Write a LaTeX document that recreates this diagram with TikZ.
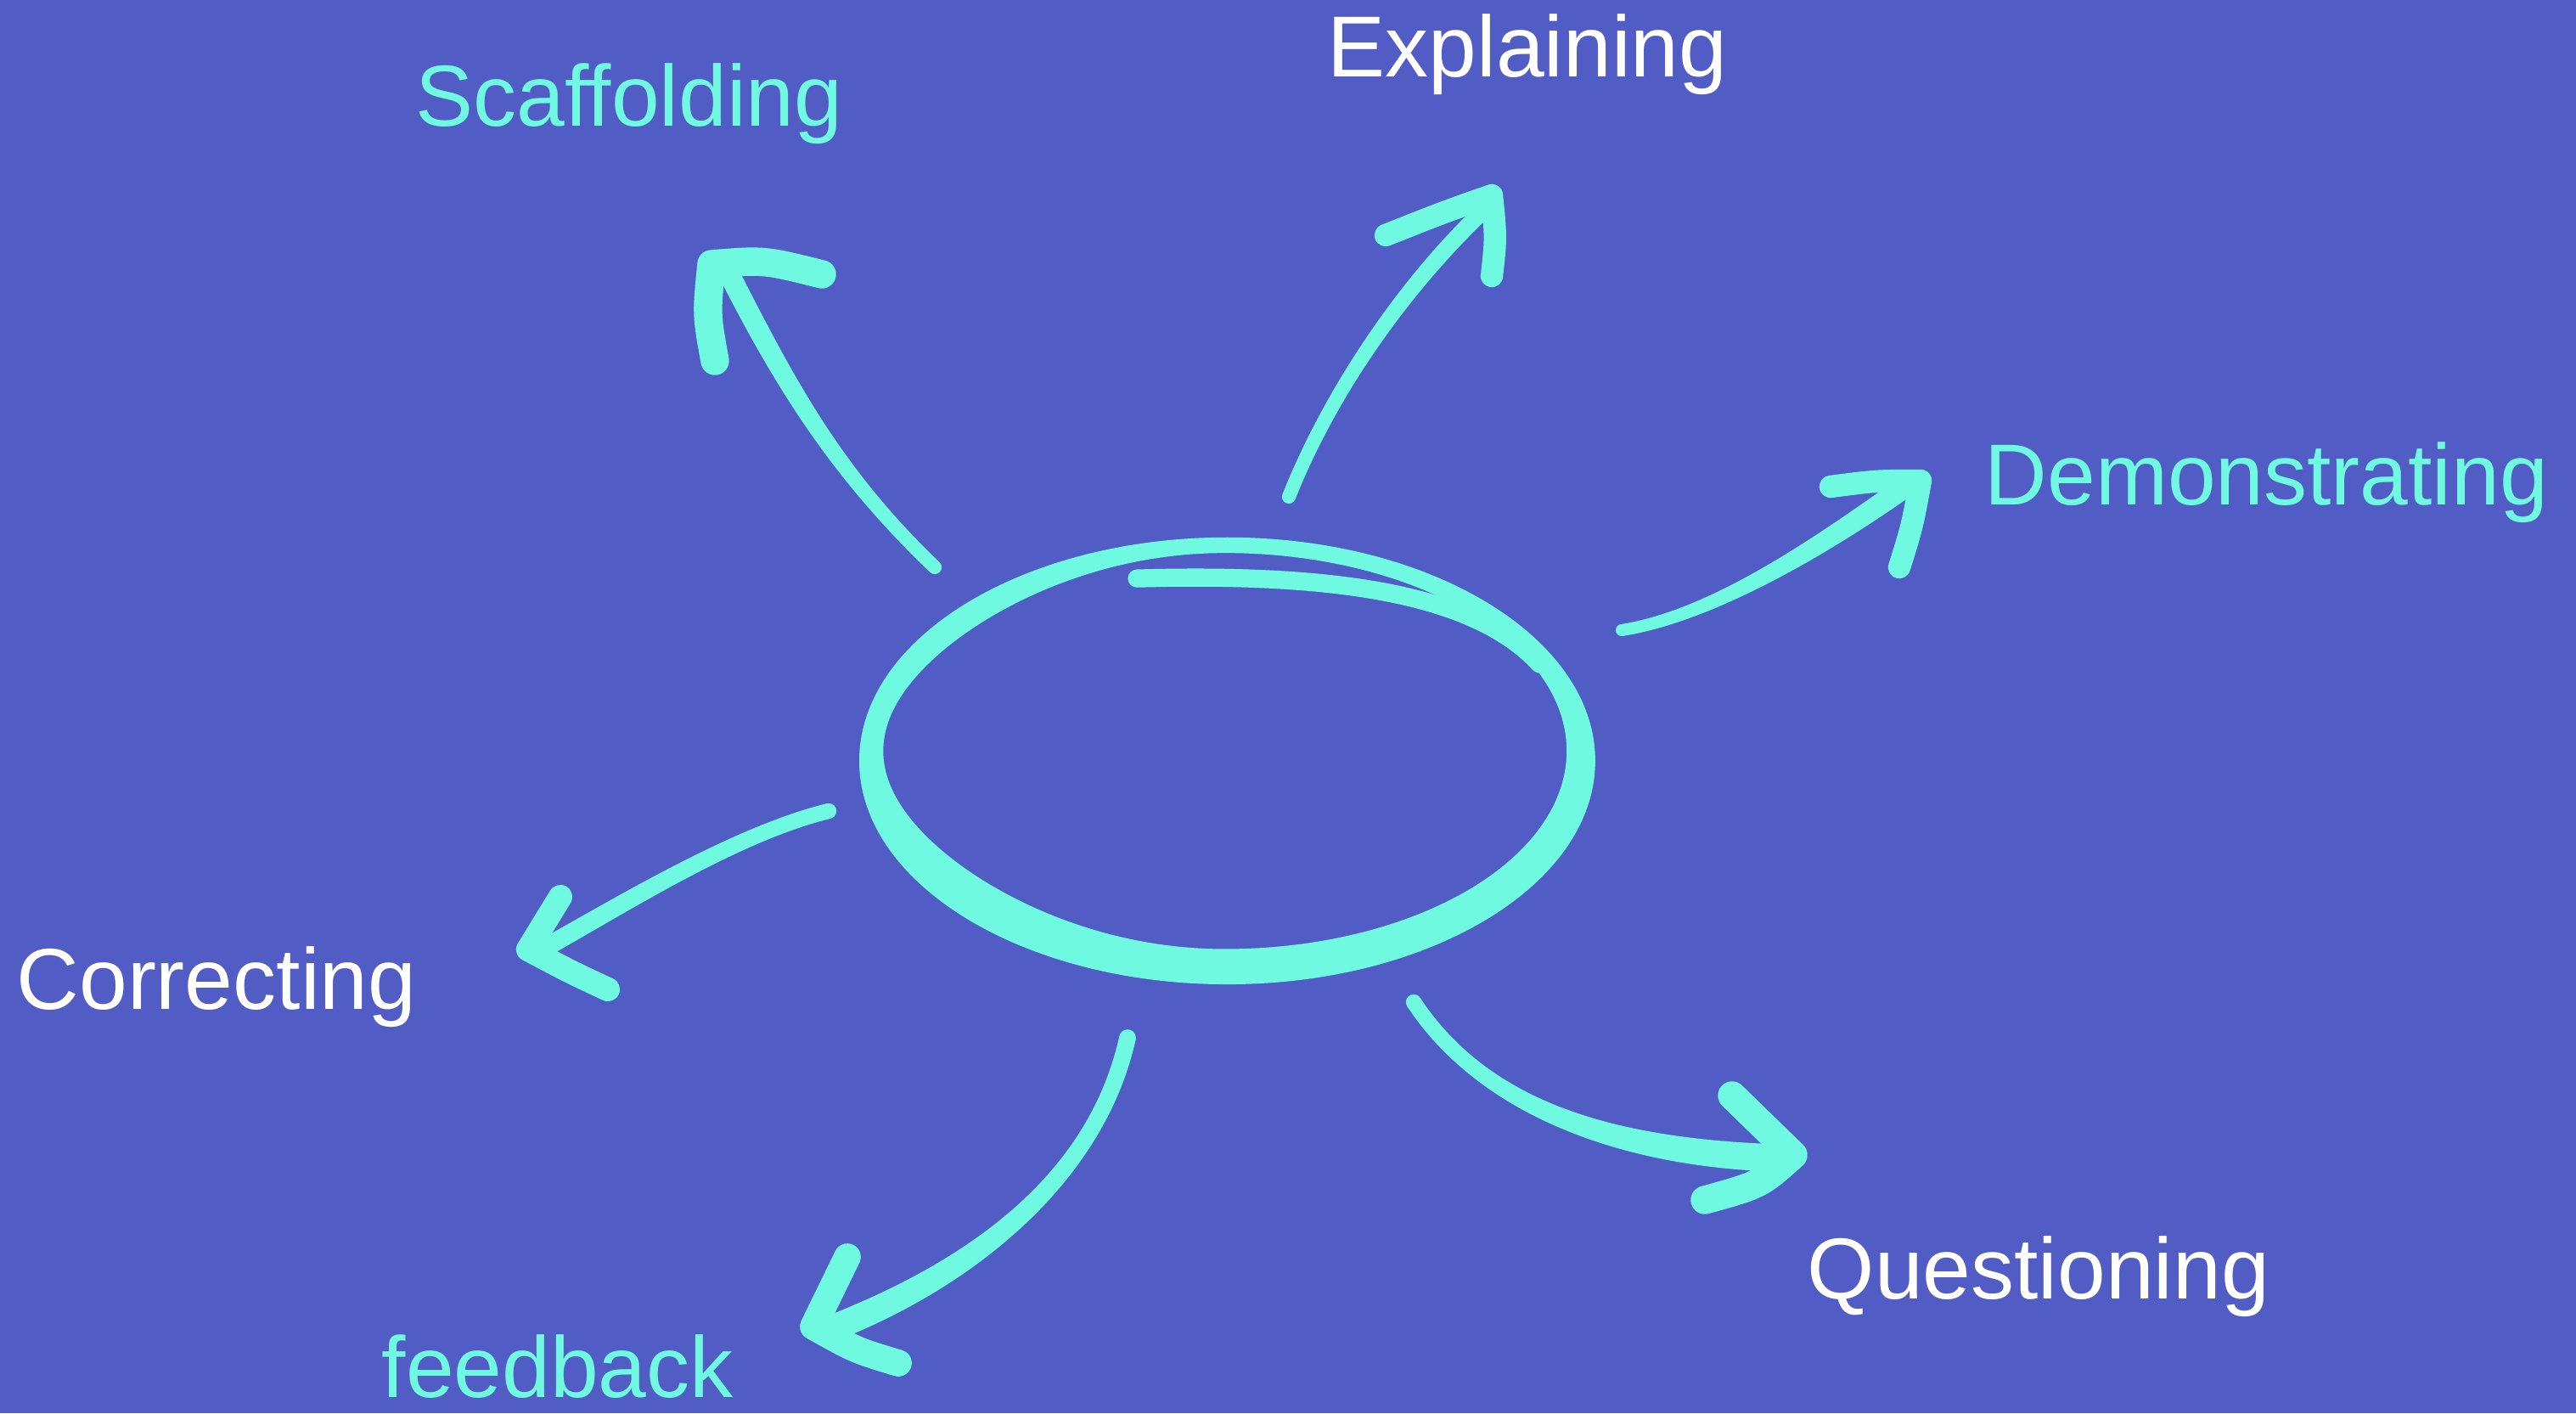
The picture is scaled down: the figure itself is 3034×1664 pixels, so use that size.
\documentclass[tikz,border=0pt]{standalone}
\usepackage{fontspec}
\setmainfont{Liberation Sans}
\usepackage{tikz}
\usetikzlibrary{positioning,calc}
\definecolor{BoardBlue}{HTML}{525CC5}
\definecolor{ChalkTeal}{HTML}{6FF9E0}

\tikzset{
  lbl/.style={anchor=base west, inner sep=0pt, font=\fontsize{29}{34}\selectfont},
  chalk/.style={draw=ChalkTeal, line cap=round, line join=round},
}

% tapered shaft: tail, control 1, control 2, tip, half width at tail, half width at tip
\newcommand{\shaft}[6]{%
  \fill[ChalkTeal] ($(#1)!#5!90:(#2)$) .. controls ($(#2)!#5!-90:(#1)$) and ($(#3)!#6!90:(#4)$) .. ($(#4)!#6!-90:(#3)$)
    -- ($(#4)!#6!90:(#3)$) .. controls ($(#3)!#6!-90:(#4)$) and ($(#2)!#5!90:(#1)$) .. ($(#1)!#5!-90:(#2)$) -- cycle;
  \fill[ChalkTeal] (#1) circle[radius=#5] (#4) circle[radius=#6];
}

\begin{document}
\begin{tikzpicture}[x=0.01cm, y=-0.01cm]
  \fill[BoardBlue] (0,0) rectangle (3034,1664);

  % labels
  \node[lbl, text=ChalkTeal] (scaf) at (489,149) {Scaffolding};
  \node[lbl, text=white] (expl) at (1563,91) {Explaining};
  \node[lbl, text=ChalkTeal] (demo) at (2337,594) {Demonstrating};
  \node[lbl, text=white] (corr) at (19,1188) {Correcting};
  \node[lbl, text=ChalkTeal] (feed) at (449,1645) {feedback};
  \node[lbl, text=white] (ques) at (2128,1529) {Questioning};

  % the loop in the middle
  \begin{scope}[scale=1.935]
    \fill[ChalkTeal, even odd rule] (747,463) ellipse [x radius=224, y radius=136]
      plot[domain=0:360, samples=145, smooth, variable=\t]
        ({745.6+208*cos(\t)}, {457+120.5*sin(\t)*(1-0.15*(max(0,-cos(\t)))^2)});
    \draw[chalk, line width=6.05pt] (692,352) .. controls (800,349) and (895,358) .. (937,404);
  \end{scope}

  % arrow ends
  \coordinate (scaf-s) at (1101,668);
  \coordinate (scaf-t) at (838,311);
  \coordinate (expl-s) at (1518,585);
  \coordinate (expl-t) at (1757,230);
  \coordinate (demo-s) at (1910,742);
  \coordinate (demo-t) at (2262,566);
  \coordinate (corr-s) at (976,955);
  \coordinate (corr-t) at (622,1118);
  \coordinate (feed-s) at (1328,1222);
  \coordinate (feed-t) at (958,1562);
  \coordinate (ques-s) at (1665,1180);
  \coordinate (ques-t) at (2112,1360);

  % shafts, thin at the tail
  \shaft{scaf-s}{985,557}{925,452}{860,325}{2.3pt}{3.5pt}
  \shaft{expl-s}{1566,464}{1651,340}{1745,250}{2.3pt}{2.8pt}
  \shaft{demo-s}{2019,725}{2150,639}{2240,576}{2pt}{3.6pt}
  \shaft{corr-s}{869,981}{736,1063}{640,1117}{2.6pt}{3.1pt}
  \shaft{feed-s}{1291,1389}{1143,1499}{985,1562}{2.8pt}{4.4pt}
  \shaft{ques-s}{1747,1304}{1900,1355}{2080,1363}{2.6pt}{4.6pt}

  % heads
  \draw[chalk, line width=9.5pt] (968,323) .. controls (900,306) .. (scaf-t) .. controls (832,370) .. (842,425);
  \draw[chalk, line width=7.5pt] (1632,277) .. controls (1700,250) .. (expl-t) .. controls (1762,280) .. (1757,325);
  \draw[chalk, line width=7.5pt] (2156,573) .. controls (2210,566) .. (demo-t) .. controls (2252,620) .. (2237,668);
  \draw[chalk, line width=8pt] (660,1056) -- (corr-t) .. controls (673,1145) .. (716,1165);
  \draw[chalk, line width=9pt] (998,1480) -- (feed-t) .. controls (1008,1590) .. (1058,1605);
  \draw[chalk, line width=9.5pt] (2040,1290) .. controls (2075,1325) .. (ques-t) .. controls (2073,1395) .. (2008,1413);
\end{tikzpicture}
\end{document}
